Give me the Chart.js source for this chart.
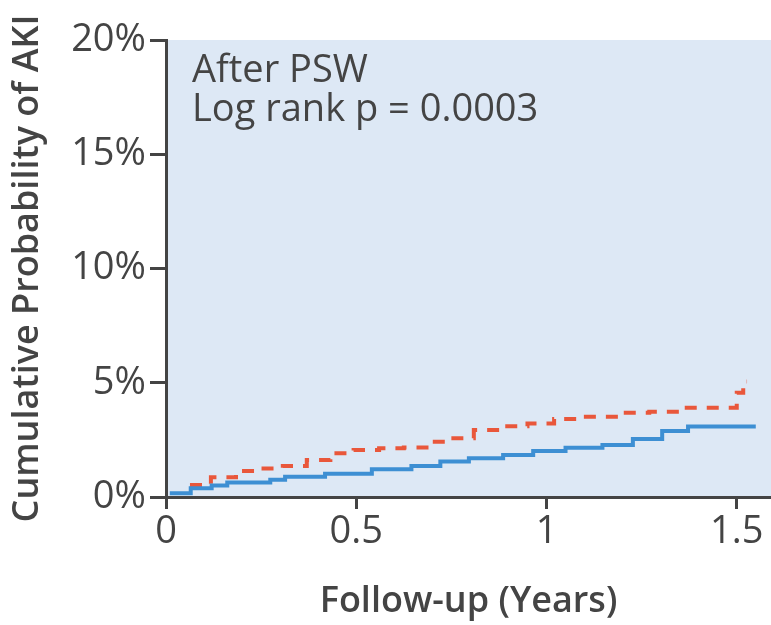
<!DOCTYPE html>
<html>
<head>
<meta charset="utf-8">
<script src="https://cdn.jsdelivr.net/npm/chart.js@4.4.1/dist/chart.umd.min.js"></script>
<style>
  html, body { margin: 0; padding: 0; background: #fff; }
  #wrap { width: 771px; height: 625px; }
</style>
</head>
<body>
<div id="wrap"><canvas id="km"></canvas></div>
<script>
// follow-up times (years) where each step starts, and the cumulative probability (%)
var blueTimes = [0.01, 0.065, 0.12, 0.161, 0.274, 0.313, 0.418, 0.541, 0.645, 0.721, 0.796, 0.886, 0.965, 1.05, 1.147, 1.227, 1.304, 1.372, 1.55];
var blueProb  = [0.16, 0.38, 0.50, 0.63, 0.76, 0.89, 1.02, 1.21, 1.36, 1.55, 1.70, 1.84, 2.01, 2.16, 2.28, 2.54, 2.89, 3.08, 3.08];

var redTimes = [0.063, 0.118, 0.184, 0.242, 0.307, 0.37, 0.432, 0.44, 0.493, 0.56, 0.625, 0.7, 0.742, 0.809, 0.88, 0.95, 1.02, 1.09, 1.2, 1.27, 1.353, 1.5, 1.517, 1.527];
var redProb  = [0.53, 0.86, 1.14, 1.25, 1.36, 1.62, 1.76, 1.91, 2.06, 2.13, 2.17, 2.42, 2.57, 2.93, 3.10, 3.22, 3.41, 3.51, 3.69, 3.73, 3.91, 4.56, 5.05, 5.05];

var xTicks = [0, 0.5, 1, 1.5];
var yTicks = [0, 5, 10, 15, 20];

var annotationLines = ['After PSW', 'Log rank p = 0.0003'];

function toPoints(ts, vs) {
  return ts.map(function (t, i) { return { x: t, y: vs[i] }; });
}

var ink = '#444444';

var panelBg = {
  id: 'panelBg',
  beforeDraw: function (chart) {
    var a = chart.chartArea, c = chart.ctx;
    c.save();
    c.fillStyle = '#dde8f5';
    c.fillRect(a.left, a.top, a.right - a.left, a.bottom - a.top);
    c.restore();
  },
  afterDraw: function (chart) {
    var a = chart.chartArea, c = chart.ctx;
    c.save();
    c.fillStyle = ink;
    c.font = '38px "Open Sans"';
    c.textBaseline = 'alphabetic';
    annotationLines.forEach(function (s, i) {
      c.fillText(s, a.left + 26, a.top + 42 + i * 39);
    });
    c.restore();
  }
};

new Chart(document.getElementById('km'), {
  type: 'line',
  data: {
    datasets: [{
      label: 'Blue',
      data: toPoints(blueTimes, blueProb),
      borderColor: '#3d8fd3',
      borderWidth: 4,
      stepped: true,
      pointRadius: 0,
      fill: false
    }, {
      label: 'Red',
      data: toPoints(redTimes, redProb),
      borderColor: '#e9573b',
      borderWidth: 4,
      borderDash: [12, 10],
      stepped: true,
      pointRadius: 0,
      fill: false
    }]
  },
  options: {
    responsive: true,
    maintainAspectRatio: false,
    animation: false,
    layout: { padding: { top: 40, right: 0, left: 0, bottom: 0 } },
    plugins: { legend: { display: false }, tooltip: { enabled: false } },
    scales: {
      x: {
        type: 'linear',
        min: 0,
        max: 1.59,
        afterBuildTicks: function (s) { s.ticks = xTicks.map(function (v) { return { value: v }; }); },
        afterFit: function (s) { s.height = 128; },
        grid: { drawOnChartArea: false, drawTicks: true, tickLength: 12, tickWidth: 3, color: ink },
        border: { display: true, color: ink, width: 3 },
        ticks: {
          color: ink,
          font: { family: 'Open Sans', size: 38 },
          padding: 0,
          maxRotation: 0,
          callback: function (v) { return String(v); }
        },
        title: {
          display: true,
          text: 'Follow-up (Years)',
          color: ink,
          font: { family: 'Open Sans', size: 36, weight: '600' },
          padding: { top: 10, bottom: 2 }
        }
      },
      y: {
        min: 0,
        max: 20,
        afterBuildTicks: function (s) { s.ticks = yTicks.map(function (v) { return { value: v }; }); },
        afterFit: function (s) { s.width = 166; },
        grid: { drawOnChartArea: false, drawTicks: true, tickLength: 16, tickWidth: 3, color: ink },
        border: { display: true, color: ink, width: 3 },
        ticks: {
          color: ink,
          font: { family: 'Open Sans', size: 38 },
          padding: 4,
          callback: function (v) { return v + '%'; }
        },
        title: {
          display: true,
          text: 'Cumulative Probability of AKI',
          color: ink,
          font: { family: 'Open Sans', size: 36, weight: '600' },
          padding: { top: 6, bottom: 0 }
        }
      }
    }
  },
  plugins: [panelBg]
});
</script>
</body>
</html>
